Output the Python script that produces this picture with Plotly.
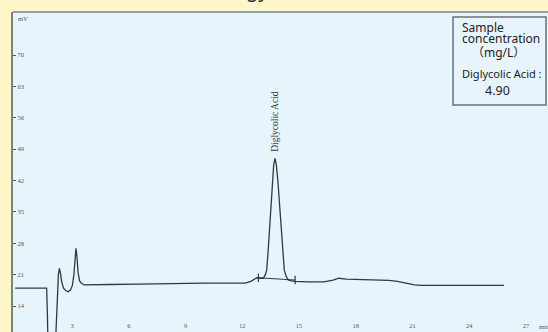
import plotly.graph_objects as go

# Chromatogram trace: retention time (min) and detector signal (mV)
time_min = [0, 1.66, 1.70, 1.78, 1.95, 2.08, 2.15, 2.22, 2.28, 2.33, 2.38, 2.45, 2.55, 2.68,
            2.80, 2.92, 3.02, 3.10, 3.16, 3.21, 3.26, 3.32, 3.40, 3.51, 3.65, 3.9, 5.0, 6.5,
            8.0, 8.7, 10.0, 11.5, 12.15, 12.45, 12.76, 12.95, 13.11, 13.22, 13.29, 13.37,
            13.48, 13.59, 13.66, 13.73, 13.80, 13.89, 14.01, 14.14, 14.22, 14.32, 14.43,
            14.6, 14.79, 15.5, 16.3, 16.8, 17.11, 17.5, 18.3, 18.96, 19.4, 19.75, 20.2,
            20.7, 21.1, 21.43, 23.0, 25.83]
signal_mv = [18.0, 18.0, 12.0, -6.0, -10.0, -2.0, 8.0, 17.0, 21.0, 22.4, 21.6, 19.5, 18.0, 17.4,
             17.2, 17.6, 18.6, 21.0, 24.5, 26.9, 25.0, 21.5, 19.6, 19.0, 18.7, 18.7, 18.8, 18.9,
             19.0, 19.1, 19.1, 19.1, 19.1, 19.5, 20.3, 20.2, 20.2, 21.0, 22.0, 26.5,
             33.9, 41.4, 45.5, 46.95, 45.5, 41.4, 33.9, 26.5, 22.0, 20.6, 19.8,
             19.6, 19.5, 19.4, 19.4, 19.8, 20.2, 20.0, 19.9, 19.7, 19.8, 19.7, 19.5,
             19.0, 18.7, 18.6, 18.6, 18.6]

# Integration baseline under the main peak (start / end)
base_time = [12.85, 14.79]
base_mv = [20.3, 19.8]

# Named peak
peak_name = "Diglycolic Acid"
peak_time = 13.73
peak_mv = 46.95

# Concentration result box
box_lines = ["Sample", "concentration", "（mg/L）", "Diglycolic Acid :", "4.90"]

x_ticks = [3, 6, 9, 12, 15, 18, 21, 24, 27]
y_ticks = [14, 21, 28, 35, 42, 49, 56, 63, 70]

W, H = 548, 332
ML, MT = 13, 12
PW, PH = W - ML, H - MT


def px(x):
    return (x - ML) / PW


def py(y):
    return 1 - (y - MT) / PH


fig = go.Figure()
fig.add_trace(go.Scatter(x=time_min, y=signal_mv, mode="lines",
                         line=dict(color="#33383e", width=1.3),
                         hoverinfo="skip", showlegend=False))
fig.add_trace(go.Scatter(x=base_time, y=base_mv, mode="lines+markers",
                         line=dict(color="#33383e", width=1),
                         marker=dict(symbol="line-ns", size=6,
                                     line=dict(color="#33383e", width=1.2)),
                         hoverinfo="skip", showlegend=False))

axis_font = dict(family="Liberation Serif, serif", size=6.5, color="#50565c")

fig.update_layout(
    width=W, height=H,
    margin=dict(l=ML, r=0, t=MT, b=0),
    paper_bgcolor="#fdf6c8",
    plot_bgcolor="#e8f4fb",
    xaxis=dict(range=[-0.119, -0.119 + PW / 18.92], tickvals=x_ticks,
               ticklabelposition="inside", ticks="", showgrid=False,
               zeroline=False, showline=False, tickfont=axis_font),
    yaxis=dict(range=[79.6 - PH / 4.482, 79.6], tickvals=y_ticks,
               ticklabelposition="inside", ticks="inside", ticklen=3,
               tickcolor="#50565c", showgrid=False, zeroline=False,
               showline=True, linecolor="#7a8288", linewidth=1.5,
               tickfont=axis_font),
)

# top edge of the chart panel
fig.add_shape(type="line", xref="paper", yref="paper", x0=0, x1=1, y0=1, y1=1,
              line=dict(color="#7a8288", width=1.5))

# axis unit labels
fig.add_annotation(x=px(16), y=py(18), xref="paper", yref="paper", text="mV",
                   showarrow=False, xanchor="left", yanchor="middle", font=axis_font)
fig.add_annotation(x=px(537), y=py(326), xref="paper", yref="paper", text="min",
                   showarrow=False, xanchor="left", yanchor="middle", font=axis_font)

# peak label
fig.add_annotation(x=peak_time, y=peak_mv, text=peak_name, textangle=-90,
                   showarrow=False, xanchor="center", yanchor="bottom", yshift=4,
                   font=dict(family="Liberation Serif, serif", size=9.5, color="#33383e"))

# heading strip across the top (runs off the top edge)
fig.add_annotation(x=px(30), y=py(-11), xref="paper", yref="paper",
                   text="Ion Exclusion Technology Reference Chart",
                   showarrow=False, xanchor="left", yanchor="middle",
                   font=dict(family="Noto Sans", size=20, color="#333333"))

# result box
fig.add_shape(type="rect", xref="paper", yref="paper",
              x0=px(453), x1=px(546), y0=py(105), y1=py(17),
              line=dict(color="#6a7076", width=1.5), fillcolor="#e8f4fb")
box_font = "Noto Sans, Noto Sans CJK SC, sans-serif"
box_specs = [
    (460, 27, "left", 12),
    (460, 39, "left", 12),
    (498, 52, "center", 12),
    (460, 73, "left", 11),
    (497, 90, "center", 12.5),
]
for text, (bx, by, anchor, size) in zip(box_lines, box_specs):
    fig.add_annotation(x=px(bx), y=py(by), xref="paper", yref="paper", text=text,
                       showarrow=False, xanchor=anchor, yanchor="middle",
                       font=dict(family=box_font, size=size, color="#222222"))

fig.write_html("out.html")
